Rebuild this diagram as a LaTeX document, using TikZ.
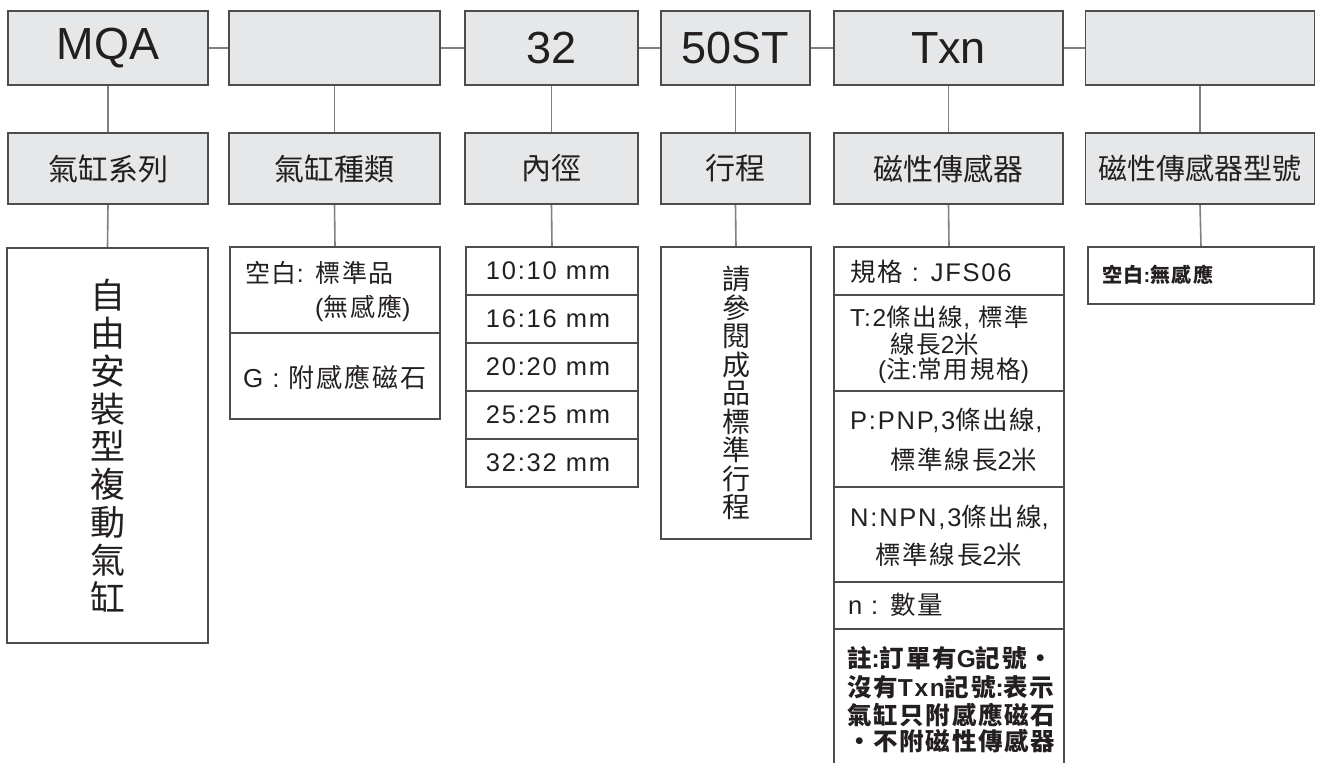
\documentclass[tikz,border=0pt]{standalone}
\usepackage{fontspec}
\setmainfont{Liberation Sans}
\newfontfamily\ls{Liberation Sans}[LetterSpace=7]
\newfontfamily\cjk{Noto Sans CJK TC}
\newfontfamily\cjks{Noto Sans CJK TC}[LetterSpace=7]
\newcommand\C[1]{{\cjks #1}}
\definecolor{boxfill}{HTML}{E6E7E8}
\definecolor{edgec}{HTML}{4D4D4D}
\definecolor{connc}{HTML}{808080}
\definecolor{ink}{HTML}{231F20}
\pgfdeclarelayer{bg}
\pgfsetlayers{bg,main}
\tikzset{
  hdr/.style={draw=edgec, fill=boxfill, line width=1.6pt, inner sep=0pt, text=ink, minimum height=74, font=\fontsize{45}{54}\selectfont},
  capbox/.style={draw=edgec, fill=boxfill, line width=1.6pt, inner sep=0pt, text=ink, minimum height=71, font=\cjk\fontsize{30}{34}\selectfont},
  cell/.style={draw=edgec, line width=1.6pt, inner sep=0pt, text=ink},
  sideline/.style={draw=edgec, line width=1.6pt},
  conn/.style={draw=connc, line width=1.6pt},
  txt/.style={inner sep=0pt, text=ink, anchor=west, font=\ls\fontsize{25.5}{28}\selectfont},
  tighttxt/.style={txt, font=\ls\fontsize{24.5}{28}\selectfont},
  notetxt/.style={inner sep=0pt, text=ink, anchor=west, font=\ls\bfseries\fontsize{24.5}{28}\selectfont},
}
\begin{document}
\begin{tikzpicture}[x=1pt,y=-1pt]
\useasboundingbox (0,0) rectangle (1320,763);
% top row
\node[hdr, minimum width=200] (t1) at (108,48) {MQA};
\node[hdr, minimum width=211] (t2) at (334.5,48) {};
\node[hdr, minimum width=173] (t3) at (551.5,48) {32};
\node[hdr, minimum width=149] (t4) at (735.5,48) {50ST};
\node[hdr, minimum width=229] (t5) at (948.5,48) {Txn};
\node[hdr, minimum width=229] (t6) at (1200,48) {};
% second row
\node[capbox, minimum width=200] (m1) at (108,168.5) {氣缸系列};
\node[capbox, minimum width=211] (m2) at (334.5,168.5) {氣缸種類};
\node[capbox, minimum width=173] (m3) at (551.5,168.5) {內徑};
\node[capbox, minimum width=149] (m4) at (735.5,168.5) {行程};
\node[capbox, minimum width=229] (m5) at (948.5,168.5) {磁性傳感器};
\node[capbox, minimum width=229, font=\cjk\fontsize{29}{34}\selectfont] (m6) at (1200,168.5) {磁性傳感器型號};
% column 1
\node[cell, minimum width=201, minimum height=395, align=center, font=\cjk\fontsize{35}{37.8}\selectfont] (b1) at (107.5,445.5)
  {自\\由\\安\\裝\\型\\複\\動\\氣\\缸};
% column 2
\node[cell, minimum width=210, minimum height=86] (b2a) at (335,290) {};
\node[cell, minimum width=210, minimum height=86] (b2b) at (335,376) {};
\node[txt, font=\ls\fontsize{25}{30}\selectfont] (b2t1) at (245,272.6) {\C{空白}: \C{標準品}};
\node[txt, font=\ls\fontsize{25}{30}\selectfont] (b2t2) at (315,308) {(\C{無感應})};
\node[txt, font=\ls\fontsize{26}{30}\selectfont] (b2t3) at (243,377) {G : \C{附感應磁石}};
% column 3
\tikzset{dcell/.style={cell, minimum width=172, minimum height=48, font=\ls\fontsize{25.5}{30}\selectfont}}
\node[dcell] (b3a) at (552,271) {10:10 mm\kern8pt};
\node[dcell] (b3b) at (552,319) {16:16 mm\kern8pt};
\node[dcell] (b3c) at (552,367) {20:20 mm\kern8pt};
\node[dcell] (b3d) at (552,415) {25:25 mm\kern8pt};
\node[dcell] (b3e) at (552,463) {32:32 mm\kern8pt};
% column 4
\node[cell, minimum width=150, minimum height=292, align=center, font=\cjk\fontsize{28}{28.5}\selectfont] (b4) at (736,393)
  {請\\參\\閱\\成\\品\\標\\準\\行\\程};
% column 5
\node[cell, minimum width=230, minimum height=48] (b5a) at (949,271) {};
\node[cell, minimum width=230, minimum height=96] (b5b) at (949,343) {};
\node[cell, minimum width=230, minimum height=96] (b5c) at (949,439) {};
\node[cell, minimum width=230, minimum height=95] (b5d) at (949,534.5) {};
\node[cell, minimum width=230, minimum height=47] (b5e) at (949,605.5) {};
\node[inner sep=0pt, minimum width=230, minimum height=135] (b5f) at (949,696.5) {};
\draw[sideline] (b5f.north west) -- (b5f.south west);
\draw[sideline] (b5f.north east) -- (b5f.south east);
\node[txt] (l1) at (850,272) {\C{規格} : JFS06};
\node[tighttxt] (l2) at (850,318) {T:2\C{條出線}, \C{標準}};
\node[tighttxt] (l3) at (890,344.5) {\C{線長}2\C{米}};
\node[tighttxt] (l4) at (878,371) {(\C{注}:\C{常用規格})};
\node[txt] (l5) at (850,420) {P:PNP,3\C{條出線},};
\node[txt] (l6) at (890,460) {\C{標準線長}2\C{米}};
\node[txt] (l7) at (850,517) {N:NPN,3\C{條出線},};
\node[txt] (l8) at (875,555) {\C{標準線長}2\C{米}};
\node[txt] (l9) at (848,605) {n : \C{數量}};
\node[notetxt] (n1) at (847,658) {\C{註}:\C{訂單有}G\C{記號・}};
\node[notetxt] (n2) at (847,687) {\C{沒有}Txn\C{記號}:\C{表示}};
\node[notetxt] (n3) at (847,715) {\C{氣缸只附感應磁石}};
\node[notetxt] (n4) at (847,741) {\C{・不附磁性傳感器}};
% column 6
\node[cell, minimum width=226, minimum height=57] (b6) at (1201,275.5) {};
\node[notetxt, font=\ls\bfseries\fontsize{20}{24}\selectfont] (b6t) at (1102,275) {\C{空白}:\C{無感應}};
% connectors
\begin{pgfonlayer}{bg}
\draw[conn] (t1.east) -- (t2.west);
\draw[conn] (t2.east) -- (t3.west);
\draw[conn] (t3.east) -- (t4.west);
\draw[conn] (t4.east) -- (t5.west);
\draw[conn] (t5.east) -- (t6.west);
\draw[conn] (t1.south) -- (m1.north);
\draw[conn] (t2.south) -- (m2.north);
\draw[conn] (t3.south) -- (m3.north);
\draw[conn] (t4.south) -- (m4.north);
\draw[conn] (t5.south) -- (m5.north);
\draw[conn] (t6.south) -- (m6.north);
\draw[conn] (m1.south) -- (b1.north);
\draw[conn] (m2.south) -- (b2a.north);
\draw[conn] (m3.south) -- (b3a.north);
\draw[conn] (m4.south) -- (b4.north);
\draw[conn] (m5.south) -- (b5a.north);
\draw[conn] (m6.south) -- (b6.north);
\end{pgfonlayer}
\end{tikzpicture}
\end{document}
